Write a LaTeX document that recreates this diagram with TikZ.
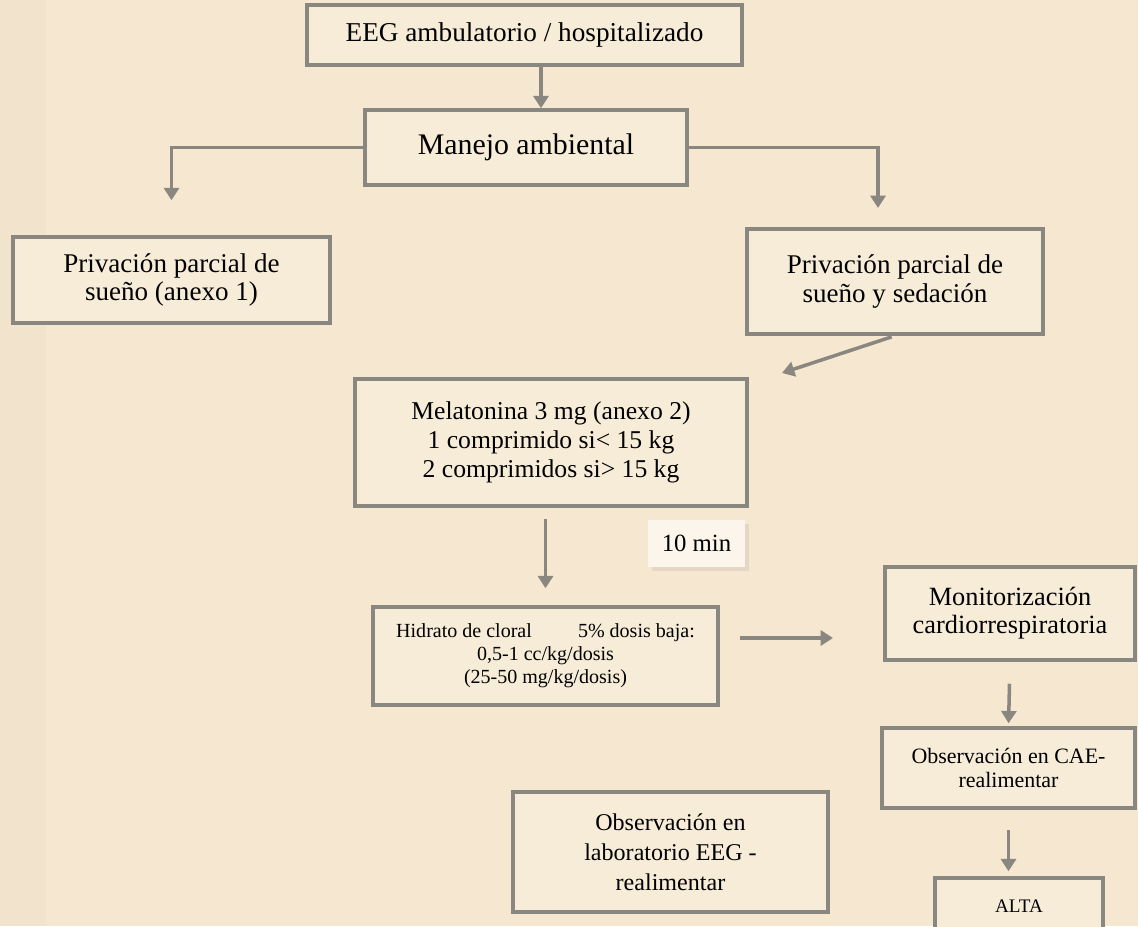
\documentclass[tikz,border=0pt]{standalone}
\usepackage{fontspec}
\setmainfont{Liberation Serif}
\usetikzlibrary{arrows.meta,shadows}
\definecolor{paper}{RGB}{246,232,208}
\definecolor{boxfill}{RGB}{247,236,216}
\definecolor{edge}{RGB}{138,134,128}
\tikzset{
 box/.style={draw=edge,line width=2pt,fill=boxfill,inner sep=0pt,align=center},
 arr/.style={draw=edge,line width=2pt,-{Triangle[length=7pt,width=8.5pt]}}
}
\begin{document}
\begin{tikzpicture}[x=0.02cm,y=-0.02cm]
 \fill[paper] (0,0) rectangle (1138,926);
 \useasboundingbox (0,0) rectangle (1138,926);
 \clip (0,0) rectangle (1138,926);
 \fill[black,opacity=0.015] (0,0) rectangle (46,926);
 \node[box,minimum width=8.7cm,minimum height=1.2cm,font=\fontsize{15.5}{17}\selectfont] (eeg) at (524.5,35) {EEG ambulatorio / hospitalizado};
 \node[box,minimum width=6.44cm,minimum height=1.5cm,font=\fontsize{17}{19}\selectfont] (manejo) at (526,147.5) {Manejo ambiental};
 \node[box,minimum width=6.34cm,minimum height=1.72cm,font=\fontsize{15.4}{15.5}\selectfont] (priv1) at (171.5,280) {Privación parcial de\\sueño (anexo 1)};
 \node[box,minimum width=5.92cm,minimum height=2.1cm,font=\fontsize{15.4}{16}\selectfont] (priv2) at (895,281.5) {Privación parcial de\\sueño y sedación};
 \node[box,minimum width=7.84cm,minimum height=2.54cm,font=\fontsize{14.6}{16.4}\selectfont] (mela) at (551,442.5) {Melatonina 3 mg (anexo 2)\\1 comprimido si< 15 kg\\2 comprimidos si> 15 kg};
 \node[fill=boxfill!50!white,inner sep=0pt,minimum width=1.94cm,minimum height=0.94cm,drop shadow={opacity=0.15,shadow xshift=2pt,shadow yshift=-2pt},font=\fontsize{14.1}{16}\selectfont] (min10) at (696.5,543.5) {10 min};
 \node[box,minimum width=6.9cm,minimum height=1.96cm,font=\fontsize{11.4}{13}\selectfont] (hidr) at (545.5,656) {Hidrato de cloral\hspace{2.3em}5\% dosis baja:\\0,5-1 cc/kg/dosis\\(25-50 mg/kg/dosis)};
 \node[box,minimum width=5cm,minimum height=1.86cm,font=\fontsize{15}{16}\selectfont] (monit) at (1010,613.5) {Monitorización\\cardiorrespiratoria};
 \node[box,minimum width=5.06cm,minimum height=1.6cm,font=\fontsize{12.5}{13.5}\selectfont] (cae) at (1008.5,768) {Observación en CAE-\\realimentar};
 \node[box,minimum width=3.36cm,minimum height=1.14cm,font=\fontsize{10.9}{12}\selectfont] (alta) at (1019,906.5) {ALTA};
 \node[box,minimum width=6.3cm,minimum height=2.4cm,font=\fontsize{13.7}{17}\selectfont] (lab) at (670.5,852) {Observación en\\laboratorio EEG -\\realimentar};
 \coordinate (a1) at (541,0);
 \coordinate (c2) at (878,208);
 \coordinate (d2) at (782,373);
 \coordinate (h2) at (833,638);
 \draw[arr] (eeg.south -| a1) -- (manejo.north -| a1);
 \draw[arr,shorten >=0.7cm] (manejo.west) -| (priv1.north);
 \draw[arr] (manejo.east) -| (c2);
 \draw[arr,shorten <=2pt] (priv2.south) -- (d2);
 \draw[arr,shorten <=0.22cm,shorten >=0.34cm] (mela.south -| hidr.north) -- (hidr.north);
 \draw[arr,shorten <=0.4cm] (hidr.east |- h2) -- (h2);
 \draw[arr,shorten <=0.44cm,shorten >=0.06cm] (monit.south) -- (cae.north);
 \draw[arr,shorten <=0.4cm,shorten >=0.1cm] (cae.south) -- (cae.south |- alta.north);
\end{tikzpicture}
\end{document}
